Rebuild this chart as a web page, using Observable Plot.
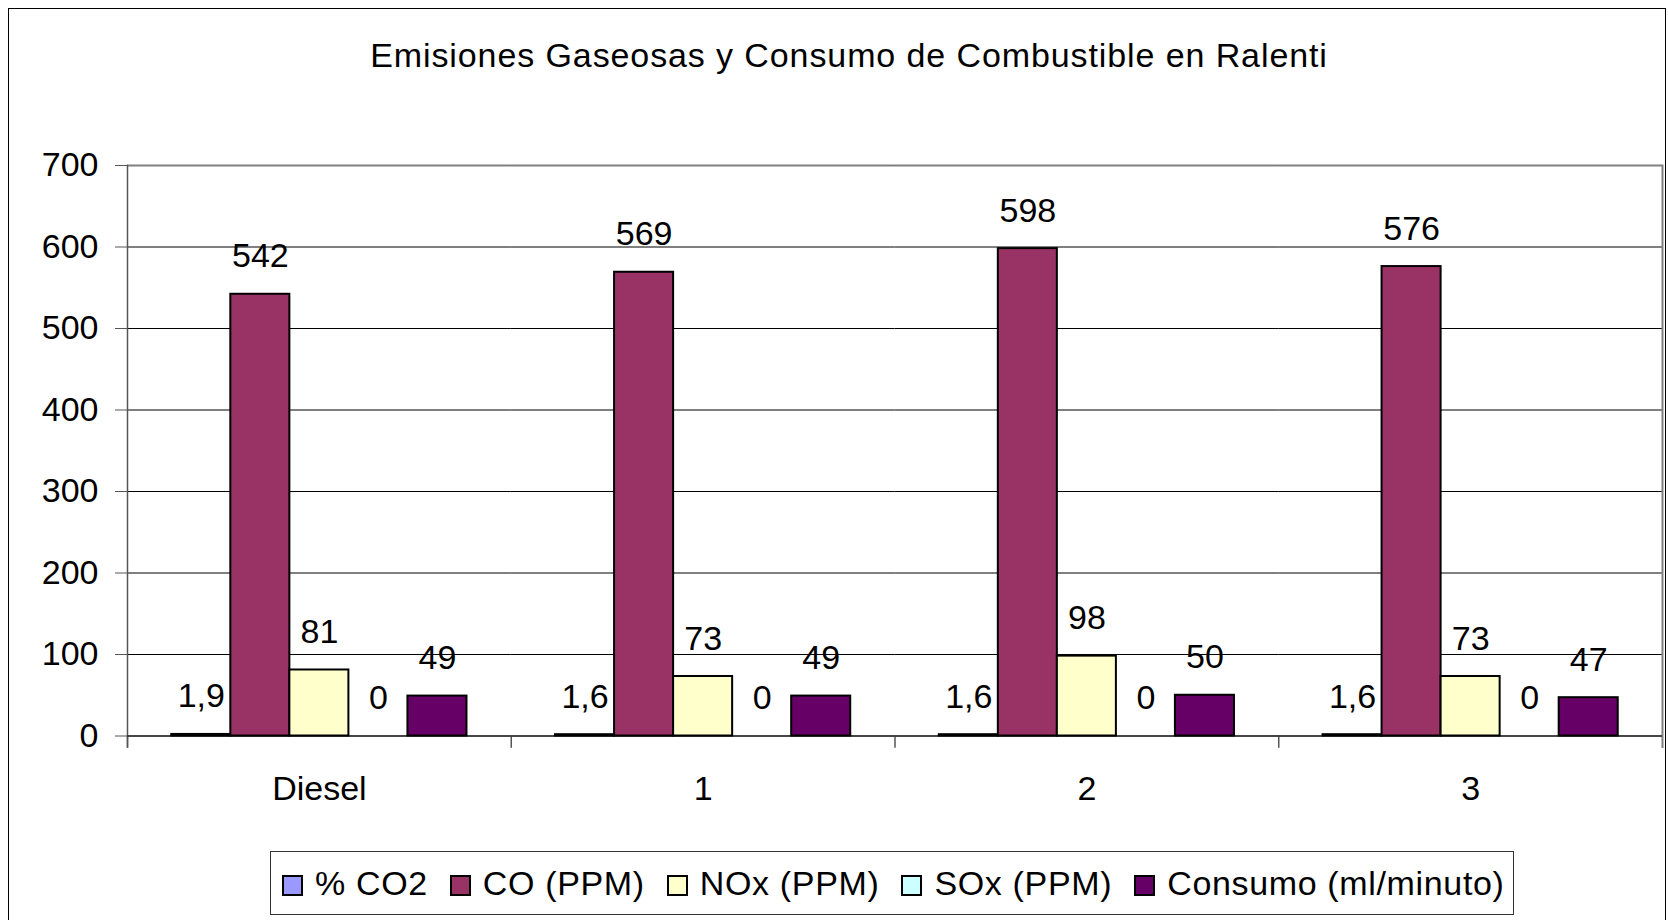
<!DOCTYPE html>
<html>
<head>
<meta charset="utf-8">
<script src="https://cdn.jsdelivr.net/npm/d3@7"></script>
<script src="https://cdn.jsdelivr.net/npm/@observablehq/plot@0.6"></script>
<style>
  html, body { margin: 0; padding: 0; background: #fff; }
  body { font-family: Arial, "Liberation Sans", sans-serif; }
  #wrap { position: relative; width: 1668px; height: 920px; overflow: hidden; background: #fff; }
  #border { position: absolute; left: 8px; top: 8px; width: 1656px; height: 1000px; border: 1px solid #000; }
  #title { position: absolute; left: 849px; top: 38px; transform: translateX(-50%); white-space: nowrap;
           font-size: 34px; line-height: 34px; letter-spacing: 0.9px; color: #000; }
  #chart { position: absolute; left: 0; top: 100px; }
  #legend { position: absolute; left: 270px; top: 851px; width: 1231px; height: 62px; border: 1px solid #333;
            box-sizing: content-box; display: flex; align-items: center; padding-left: 11px; gap: 22px; background: #fff; }
  .item { display: flex; align-items: center; font-size: 34px; letter-spacing: 0.65px; white-space: nowrap; }
  .sw { width: 17px; height: 17px; border: 2px solid #000; margin-right: 12px; margin-top: 4px; }
</style>
</head>
<body>
<div id="wrap">
  <div id="border"></div>
  <div id="title"></div>
  <div id="chart"></div>
  <div id="legend"></div>
</div>
<script>
const title = "Emisiones Gaseosas y Consumo de Combustible en Ralenti";
const categories = ["Diesel", "1", "2", "3"];
const series = ["% CO2", "CO (PPM)", "NOx (PPM)", "SOx (PPM)", "Consumo (ml/minuto)"];
const colors = ["#9999FF", "#993366", "#FFFFCC", "#CCFFFF", "#660066"];
const co2 = [1.9, 1.6, 1.6, 1.6];
const co = [542, 569, 598, 576];
const nox = [81, 73, 98, 73];
const sox = [0, 0, 0, 0];
const consumo = [49, 49, 50, 47];
const yTicks = [0, 100, 200, 300, 400, 500, 600, 700];

const seriesValues = [co2, co, nox, sox, consumo];
const data = [];
categories.forEach((c, ci) => {
  series.forEach((s, si) => data.push({cat: c, series: s, value: seriesValues[si][ci]}));
});

const fmt = v => String(v).replace(".", ",");

const W = 1668, H = 730, mTop = 65, mBottom = 94.5, mLeft = 127, mRight = 6;
const plotH = H - mTop - mBottom;

document.getElementById("title").textContent = title;

const chart = Plot.plot({
  width: W,
  height: H,
  marginTop: mTop,
  marginBottom: mBottom,
  marginLeft: mLeft,
  marginRight: mRight,
  style: {fontFamily: "Arial, 'Liberation Sans', sans-serif", fontSize: "34px", color: "#000", background: "transparent"},
  fx: {domain: categories, padding: 0, round: false, label: null, axis: null},
  x: {domain: series, paddingInner: 0, paddingOuter: 0.75, round: false, axis: null},
  y: {domain: [0, 700], axis: null},
  color: {domain: series, range: colors},
  marks: [
    Plot.gridY(yTicks, {stroke: "#000", strokeOpacity: 1, strokeWidth: 1}),
    Plot.ruleY([700], {stroke: "#808080", strokeWidth: 2}),
    Plot.frame({anchor: "left", insetTop: plotH, insetBottom: -11, stroke: "#555", strokeWidth: 1.5}),
    Plot.frame({anchor: "left", facetAnchor: "left", insetBottom: -11, stroke: "#555", strokeWidth: 1.5}),
    Plot.frame({anchor: "right", facetAnchor: "right", insetBottom: -11, stroke: "#808080", strokeWidth: 2}),
    Plot.axisY(yTicks, {anchor: "left", tickSize: 12, tickPadding: 17, fontSize: 34, stroke: "#555", label: null}),
    Plot.axisFx({anchor: "bottom", tickSize: 0, tickPadding: 39.7, fontSize: 34, label: null}),
    Plot.ruleY([0], {stroke: "#333", strokeWidth: 1.5}),
    Plot.barY(data, {filter: d => d.value > 0, fx: "cat", x: "series", y: "value", fill: "series", stroke: "#000", strokeWidth: 2}),
    Plot.text(data, {fx: "cat", x: "series", y: "value", text: d => fmt(d.value), lineAnchor: "bottom", dy: -27, fontSize: 34, fill: "#000"})
  ]
});
document.getElementById("chart").appendChild(chart);

const legend = document.getElementById("legend");
series.forEach((s, i) => {
  const item = document.createElement("div");
  item.className = "item";
  const sw = document.createElement("div");
  sw.className = "sw";
  sw.style.background = colors[i];
  const t = document.createElement("span");
  t.textContent = s;
  item.appendChild(sw);
  item.appendChild(t);
  legend.appendChild(item);
});
</script>
</body>
</html>
